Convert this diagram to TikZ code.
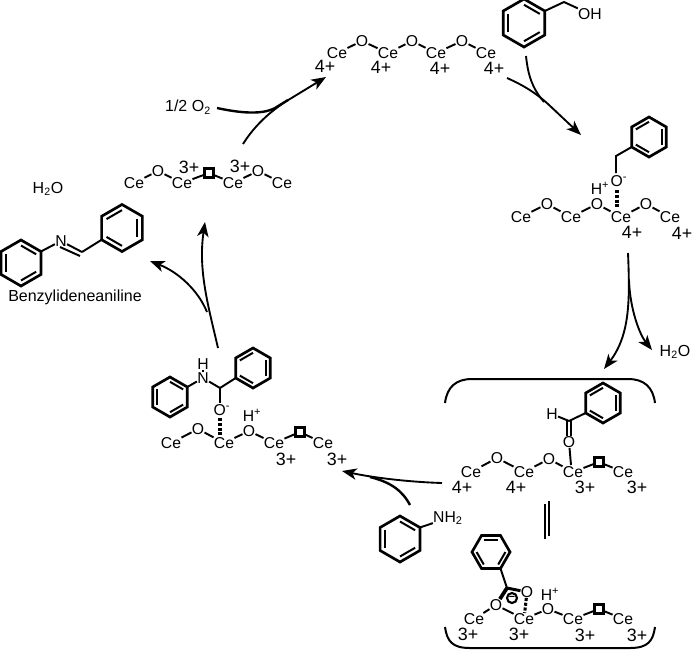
\documentclass[tikz,border=0pt]{standalone}
\usepackage{fontspec}
\setmainfont{Liberation Sans}
\usetikzlibrary{calc,arrows.meta}
\newcommand{\atm}[4]{\node[atomtxt] (#1) at (#2,#3) {#4};}
\newcommand{\chg}[4]{\node[chgtxt] (#1) at (#2,#3) {#4};}
\newcommand{\vac}[3]{\node[vacbox] (#1) at (#2,#3) {};}
\newcommand{\benz}[5]{%
  \foreach \k in {0,...,5}{\coordinate (#1\k) at ($(#2,#3)+({#5+60*\k}:#4)$);}
  \coordinate (#1c) at (#2,#3);
  \draw[ring] (#10)--(#11)--(#12)--(#13)--(#14)--(#15)--cycle;
  \draw[ringin] ($(#1c)!0.76!(#10)$)--($(#1c)!0.76!(#11)$);
  \draw[ringin] ($(#1c)!0.76!(#12)$)--($(#1c)!0.76!(#13)$);
  \draw[ringin] ($(#1c)!0.76!(#14)$)--($(#1c)!0.76!(#15)$);
}
\tikzset{
  atomtxt/.style={font=\fontsize{11.8pt}{12pt}\selectfont,inner sep=0.3pt,outer sep=0pt},
  chgtxt/.style={font=\fontsize{13.4pt}{14pt}\selectfont,inner sep=0pt},
  lbl/.style={font=\fontsize{12pt}{14pt}\selectfont,inner sep=0pt},
  vacbox/.style={draw,line width=2pt,minimum size=6.8pt,inner sep=0pt},
  bond/.style={line width=1.45pt},
  dbond/.style={line width=2.3pt,dash pattern=on 2.3pt off 1.3pt},
  ring/.style={line width=2pt,line join=miter},
  ringin/.style={line width=1.5pt},
  arr/.style={line width=1.4pt,-{Stealth[length=11pt,width=8.5pt,inset=3pt]}},
  arl/.style={line width=1.4pt},
  brk/.style={line width=1.5pt},
}
\begin{document}
\begin{tikzpicture}[x=0.75pt,y=-0.75pt]
\useasboundingbox (0,0) rectangle (692,651);
% top chain
\atm{ta}{337}{53}{Ce}\atm{tb}{362}{41}{O}\atm{tc}{388}{53}{Ce}\atm{td}{412}{41}{O}\atm{te}{436}{53}{Ce}\atm{tf}{462}{41}{O}\atm{tg}{486}{53}{Ce}
\draw[bond] (ta)--(tb);\draw[bond] (tb)--(tc);\draw[bond] (tc)--(td);\draw[bond] (td)--(te);\draw[bond] (te)--(tf);\draw[bond] (tf)--(tg);
\chg{tq1}{325}{66}{4+}\chg{tq2}{381}{67}{4+}\chg{tq3}{440}{68}{4+}\chg{tq4}{494}{68}{4+}
% left 3+ chain
\atm{la}{134}{183}{Ce}\atm{lb}{158}{171}{O}\atm{lc}{182}{183}{Ce}\vac{lv}{209}{173}\atm{ld}{233}{183}{Ce}\atm{le}{258}{171}{O}\atm{lf}{282}{183}{Ce}
\draw[bond] (la)--(lb);\draw[bond] (lb)--(lc);\draw[bond] (lc)--(lv);\draw[bond] (lv)--(ld);\draw[bond] (ld)--(le);\draw[bond] (le)--(lf);
\chg{lq1}{189}{167}{3+}\chg{lq2}{240}{166}{3+}
% 1/2 O2
\node[lbl] (oxy) at (188,107) {1/2 O\textsubscript{2}};
% benzyl alcohol
\benz{ba}{524}{23}{24}{30}
\coordinate (bach) at (564,2);
\node[atomtxt] (baoh) at (590,14) {OH};
\draw[bond] (ba5)--(bach)--(baoh);
% right chain
\atm{ra}{521}{217}{Ce}\atm{rb}{547}{204}{O}\atm{rc}{571}{217}{Ce}\atm{rd}{597}{204}{O}\atm{re}{621}{217}{Ce}\atm{rf}{646}{204}{O}\atm{rg}{670}{217}{Ce}
\draw[bond] (ra)--(rb);\draw[bond] (rb)--(rc);\draw[bond] (rc)--(rd);\draw[bond] (rd)--(re);\draw[bond] (re)--(rf);\draw[bond] (rf)--(rg);
\chg{rq1}{632}{232}{4+}\chg{rq2}{682}{233}{4+}
\atm{rh}{600}{188}{H\textsuperscript{+}}
\atm{ro}{619}{181}{O\textsuperscript{-}}
\coordinate (roa) at (617,190);
\coordinate (rob) at (617,209);
\draw[dbond] (roa)--(rob);
\benz{rr}{649}{137}{20}{90}
\coordinate (rch) at (616,156);
\draw[bond] (616,173)--(rch)--(rr1);
% H2O right
\node[lbl] (wr) at (675,352) {H\textsubscript{2}O};
% brackets
\draw[brk] (445,403) .. controls (447,387) and (456,379) .. (472,379) -- (628,379) .. controls (644,379) and (653,387) .. (655,403);
\draw[brk] (445,627) .. controls (447,641) and (452,648) .. (470,648) -- (630,648) .. controls (648,648) and (653,641) .. (655,627);
% middle chain
\atm{ma}{471}{472}{Ce}\atm{mb}{497}{458}{O}\atm{mc}{524}{472}{Ce}\atm{md}{549}{459}{O}\atm{me}{573}{472}{Ce}\vac{mv}{599}{462}\atm{mf}{623}{472}{Ce}
\draw[bond] (ma)--(mb);\draw[bond] (mb)--(mc);\draw[bond] (mc)--(md);\draw[bond] (md)--(me);\draw[bond] (me)--(mv);\draw[bond] (mv)--(mf);
\chg{mq1}{462}{487}{4+}\chg{mq2}{516}{487}{4+}\chg{mq3}{585}{487}{3+}\chg{mq4}{637}{487}{3+}
\atm{mo}{569}{442}{O}
\draw[bond] (mo)--(571,465);
\coordinate (mcc) at (569,421);
\draw[bond] ($(mcc)+(-2,0)$)--($(mo.north)+(-2,0)$);\draw[bond] ($(mcc)+(2,0)$)--($(mo.north)+(2,0)$);
\atm{mh}{552}{414}{H}
\draw[bond] (mh)--(mcc);
\benz{mr}{603}{403}{20}{90}
\draw[bond] (mcc)--(mr1);
% equilibrium
\draw[line width=1.5pt] (549,501)--(549,536);
\draw[line width=1.5pt] (544.5,504)--(544.5,539);
% bottom chain
\atm{ba_}{474}{619}{Ce}\atm{bb}{496}{605}{O}\atm{bc}{524}{619}{Ce}\atm{bd}{548}{609}{O}\atm{be}{573}{619}{Ce}\vac{bv}{599}{609}\atm{bf}{623}{619}{Ce}
\draw[bond] (ba_)--(bb);\draw[bond] (bb)--(bc);\draw[bond] (bc)--(bd);\draw[bond] (bd)--(be);\draw[bond] (be)--(bv);\draw[bond] (bv)--(bf);
\chg{bq1}{468}{634}{3+}\chg{bq2}{519}{634}{3+}\chg{bq3}{585}{635}{3+}\chg{bq4}{637}{635}{3+}
\atm{bh}{550}{594}{H\textsuperscript{+}}
\atm{bo}{527}{592}{O}
\draw[dbond] (bo)--(bc);
\coordinate (bcc) at (507,588);
\benz{br}{491}{552}{19}{0}
\draw[bond] (br1)--(bcc);
\draw[line width=2.2pt] (bcc)--(bo);
\draw[line width=2.8pt] (bcc)--(bb);
\node[draw,circle,line width=1.6pt,minimum size=7.5pt,inner sep=0pt,font=\fontsize{8pt}{8pt}\selectfont\bfseries] (bm) at (512,598) {−};
% aniline
\benz{an}{400}{539}{23}{30}
\atm{anN}{448}{518}{NH\textsubscript{2}}
\draw[bond] (an5)--(anN);
% left intermediate
\atm{ia}{171}{443}{Ce}\atm{ib}{198}{429}{O}\atm{ic}{224}{443}{Ce}\atm{id}{249}{431}{O}\atm{ie}{274}{443}{Ce}\vac{iv}{300}{432}\atm{if}{323}{443}{Ce}
\draw[bond] (ia)--(ib);\draw[bond] (ib)--(ic);\draw[bond] (ic)--(id);\draw[bond] (id)--(ie);\draw[bond] (ie)--(iv);\draw[bond] (iv)--(if);
\chg{iq1}{286}{459}{3+}\chg{iq2}{337}{459}{3+}
\atm{ih}{252}{415}{H\textsuperscript{+}}
\atm{io}{222}{410}{O\textsuperscript{-}}
\coordinate (ioa) at (220,418);
\coordinate (iob) at (220,436);
\draw[dbond] (ioa)--(iob);
\coordinate (icc) at (220,388);
\draw[bond] (icc)--(220,403);
\atm{iN}{203}{378}{N}\atm{iH}{203}{364}{H}
\draw[bond] (iN)--(iH);
\draw[bond] (iN)--(icc);
\benz{il}{170}{397}{20}{30}
\benz{ir}{253}{368}{20}{90}
\draw[bond] (iN)--(il5);
\draw[bond] (icc)--(ir1);
% benzylideneaniline
\benz{pl}{21}{263}{23}{30}
\benz{pr}{122}{228}{23.5}{90}
\atm{pN}{61}{241}{N}
\coordinate (pC) at (82,252);
\draw[bond] (pN)--(pl5);
\draw[bond] (pN)--(pC);
\draw[bond] ($(pN)+(-1,6)$)--($(pC)+(-2,4)$);
\draw[bond] (pC)--(pr1);
\node[lbl] (pname) at (75,297) {Benzylideneaniline};
\node[lbl] (wl) at (48,189) {H\textsubscript{2}O};
% arrows
\draw[arr] (243,144) .. controls (255,125) and (270,112) .. (285,102) -- (326,77);
\draw[arl,line width=1.8pt] (217,108) .. controls (240,113) and (262,115) .. (275,108) -- (288,100);
\draw[arr] (507,78) .. controls (525,86) and (537,94) .. (548,104) -- (581,135);
\draw[arl] (526,56) .. controls (528,75) and (532,88) .. (544,102);
\draw[arr] (628,253) .. controls (630,300) and (630,335) .. (604,369);
\draw[arr] (629,280) .. controls (630,310) and (640,335) .. (652,350);
\draw[arr] (442,483) .. controls (410,482) and (375,478) .. (342,471);
\draw[arl,line width=1.8pt] (410,505) .. controls (402,490) and (390,482) .. (370,477);
\draw[arr] (218,348) .. controls (208,305) and (198,270) .. (205,222);
\draw[arr] (207,312) .. controls (198,290) and (178,272) .. (150,261);
\end{tikzpicture}
\end{document}
